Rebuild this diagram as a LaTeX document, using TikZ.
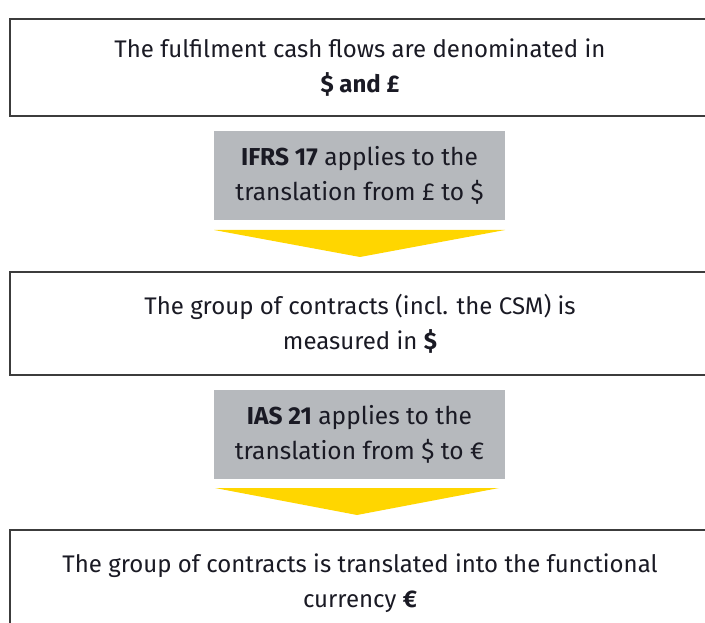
\documentclass[tikz,border=0pt]{standalone}
\usepackage{fontspec}
\setmainfont{Fira Sans}
\definecolor{txt}{HTML}{1A1A24}
\definecolor{grayfill}{HTML}{B6B9BD}
\definecolor{eyyellow}{HTML}{FFD600}
\definecolor{edge}{HTML}{3C3C3C}
\begin{document}
\begin{tikzpicture}[x=1pt,y=-1pt,
  whitebox/.style={draw=edge,line width=1.2pt,fill=white,text=txt,align=center,inner sep=0pt,font=\fontsize{24}{35}\selectfont},
  graybox/.style={fill=grayfill,text=txt,align=center,inner sep=0pt,minimum width=291pt,minimum height=89pt,font=\fontsize{24.5}{35}\selectfont},
  arrowtri/.style={fill=eyyellow,draw=none}]
\useasboundingbox (0,0) rectangle (705,623);
\clip (0,0) rectangle (705,623);
\node[whitebox,minimum width=700pt,minimum height=97pt] (b1) at (360,67.5)
  {The fulfilment cash flows are denominated in\\ \textbf{\$ and £}};
\node[graybox] (g1) at (359.5,175.5) {\textbf{IFRS 17} applies to the\\ translation from £ to \$};
\coordinate (t1a) at (214,230);
\coordinate (t1b) at (505,230);
\coordinate (t1c) at (360,257);
\fill[arrowtri] (t1a) -- (t1b) -- (t1c) -- cycle;
\node[whitebox,minimum width=700pt,minimum height=103pt] (b2) at (360,323.5)
  {The group of contracts (incl. the CSM) is\\ measured in \textbf{\$}};
\node[graybox] (g2) at (359.5,434) {\textbf{IAS 21} applies to the\\ translation from \$ to €};
\coordinate (t2a) at (215,488);
\coordinate (t2b) at (499,488);
\coordinate (t2c) at (357,515);
\fill[arrowtri] (t2a) -- (t2b) -- (t2c) -- cycle;
\node[whitebox,minimum width=700pt,minimum height=106pt] (b3) at (360,583)
  {The group of contracts is translated into the functional\\ currency \textbf{€}};
\end{tikzpicture}
\end{document}
